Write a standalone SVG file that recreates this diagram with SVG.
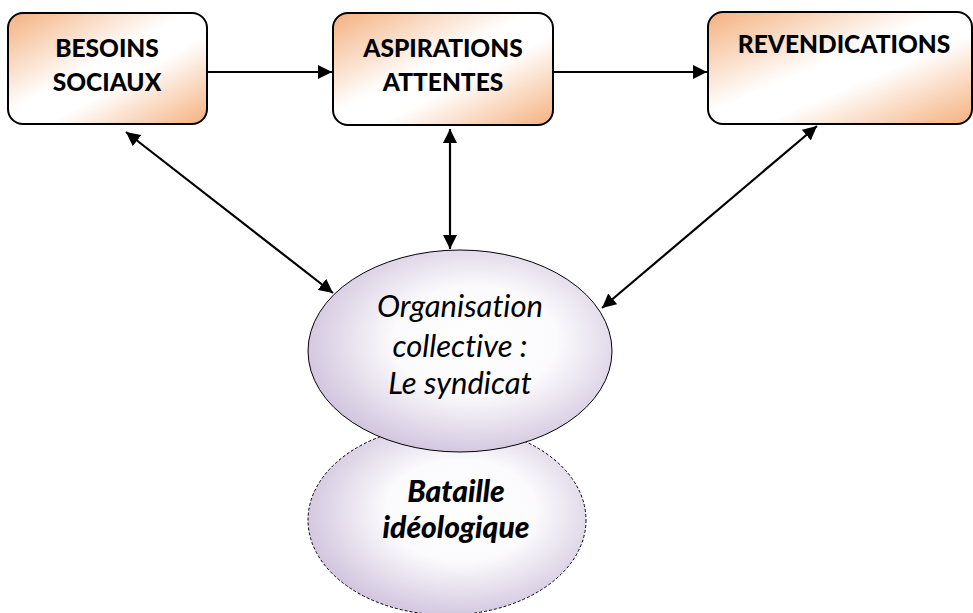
<svg xmlns="http://www.w3.org/2000/svg" width="973" height="613" viewBox="0 0 973 613">
<defs>
<linearGradient id="gBox" x1="0" y1="0" x2="1" y2="1">
<stop offset="0" stop-color="#f4b07e"/>
<stop offset="0.45" stop-color="#ffffff"/>
<stop offset="0.6" stop-color="#ffffff"/>
<stop offset="1" stop-color="#f4b07e"/>
</linearGradient>
<radialGradient id="gEll" cx="0.55" cy="0.45" r="0.6">
<stop offset="0" stop-color="#ffffff"/>
<stop offset="0.45" stop-color="#fbfafc"/>
<stop offset="1" stop-color="#cdc0db"/>
</radialGradient>
<marker id="ah" viewBox="0 0 10 10" refX="10" refY="5" markerWidth="14" markerHeight="14" markerUnits="userSpaceOnUse" orient="auto-start-reverse">
<path d="M0,0 L10,5 L0,10 z" fill="#000"/>
</marker>
<style>
.box{fill:url(#gBox);stroke:#000;stroke-width:2}
.ell{fill:url(#gEll);stroke:#000;stroke-width:1}
.dash{stroke-dasharray:3,2}
text{font-variant-ligatures:none}
.bt{font-family:Lato,"Open Sans",sans-serif;font-weight:900;font-size:24.5px;text-anchor:middle;fill:#000}
.it{font-family:Lato,"Open Sans",sans-serif;font-style:italic;font-size:31px;text-anchor:middle;fill:#000}
.bit{font-family:Lato,"Open Sans",sans-serif;font-style:italic;font-weight:900;font-size:30px;text-anchor:middle;fill:#000}
.con{stroke:#000;stroke-width:2.2;fill:none}
</style>
</defs>
<g id="bataille">
<ellipse class="ell dash" cx="447" cy="520" rx="139" ry="95"/>
<text class="bit" x="456" y="502">Bataille</text>
<text class="bit" x="456" y="538">idéologique</text>
</g>
<g id="organisation">
<ellipse class="ell" cx="460" cy="351" rx="152" ry="101"/>
<text class="it" x="460" y="317">Organisation</text>
<text class="it" x="460" y="357">collective :</text>
<text class="it" x="460" y="394">Le syndicat</text>
</g>
<g id="besoins">
<rect class="box" x="8" y="13" width="199" height="111" rx="15"/>
<text class="bt" x="107" y="57">BESOINS</text>
<text class="bt" x="107" y="91">SOCIAUX</text>
</g>
<g id="aspirations">
<rect class="box" x="333" y="13" width="220" height="112" rx="15"/>
<text class="bt" x="443" y="57">ASPIRATIONS</text>
<text class="bt" x="443" y="91">ATTENTES</text>
</g>
<g id="revendications">
<rect class="box" x="708" y="12" width="264" height="112" rx="15"/>
<text class="bt" x="844" y="53">REVENDICATIONS</text>
</g>
<g id="connectors">
<line class="con" x1="207" y1="72" x2="332" y2="72" marker-end="url(#ah)"/>
<line class="con" x1="553" y1="72" x2="707" y2="72" marker-end="url(#ah)"/>
<line class="con" x1="126" y1="132" x2="333" y2="293" marker-start="url(#ah)" marker-end="url(#ah)"/>
<line class="con" x1="450" y1="129" x2="450" y2="249" marker-start="url(#ah)" marker-end="url(#ah)"/>
<line class="con" x1="817" y1="126" x2="602" y2="308" marker-start="url(#ah)" marker-end="url(#ah)"/>
</g>
</svg>
